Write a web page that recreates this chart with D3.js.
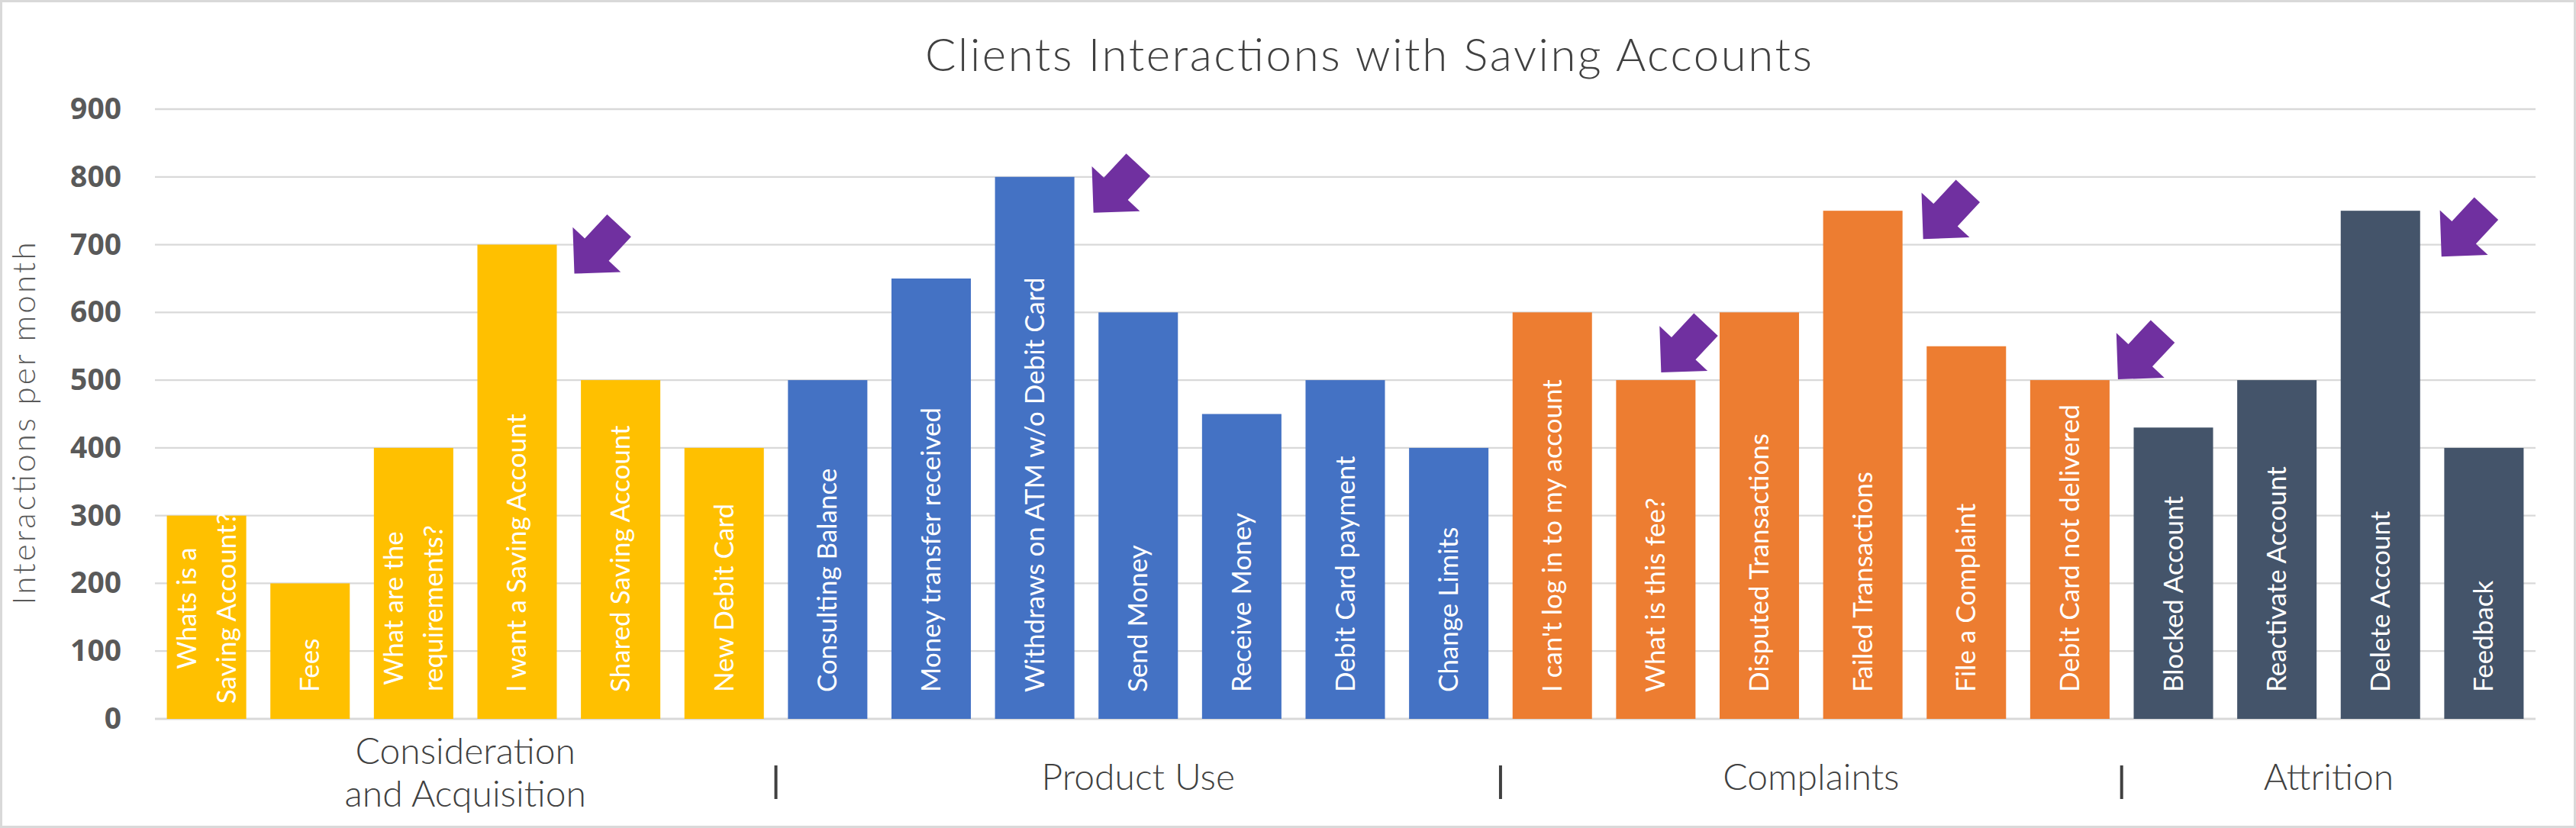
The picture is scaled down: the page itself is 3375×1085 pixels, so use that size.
<!DOCTYPE html>
<html><head><meta charset="utf-8">
<script src="https://cdn.jsdelivr.net/npm/d3@7"></script>
<style>body{margin:0;background:#fff} svg{display:block}</style>
</head><body>
<svg id="chart" width="3375" height="1085"></svg>
<script>
// ---------- data ----------
const categories = [
  "Whats is a\nSaving Account?", "Fees", "What are the\nrequirements?", "I want a Saving Account",
  "Shared Saving Account", "New Debit Card",
  "Consulting Balance", "Money transfer received", "Withdraws on ATM w/o Debit Card", "Send Money",
  "Receive Money", "Debit Card payment", "Change Limits",
  "I can't log in to my account", "What is this fee?", "Disputed Transactions", "Failed Transactions",
  "File a Complaint", "Debit Card not delivered",
  "Blocked Account", "Reactivate Account", "Delete Account", "Feedback"
];
const values = [300, 200, 400, 700, 500, 400,
                500, 650, 800, 600, 450, 500, 400,
                600, 500, 600, 750, 550, 500,
                430, 500, 750, 400];
const categoryGroup = [0,0,0,0,0,0, 1,1,1,1,1,1,1, 2,2,2,2,2,2, 3,3,3,3];
const groupNames = ["Consideration\nand Acquisition", "Product Use", "Complaints", "Attrition"];
const yTicks = [0, 100, 200, 300, 400, 500, 600, 700, 800, 900];
const highlighted = ["I want a Saving Account", "Withdraws on ATM w/o Debit Card", "What is this fee?",
                     "Failed Transactions", "Debit Card not delivered", "Delete Account"];
const titleText = "Clients Interactions with Saving Accounts";
const yTitle = "Interactions per month";

// ---------- styles / layout ----------
const groupColors = ["#FFC000", "#4472C4", "#ED7D31", "#44546A"];
const arrowColor = "#7030A0";
// arrow tip offsets (px) from the top-right corner of the highlighted bar
const arrowOffsets = [[23, 38], [25, 47], [-45, -10], [27, 37], [11, -1], [28, 60]];
const lightFont = "Lato, 'Open Sans', sans-serif";
const W = 3375, H = 1085;
const plot = {left: 203, right: 3322, top: 143, bottom: 942};

const svg = d3.select("#chart");
svg.append("rect").attr("x", 1.5).attr("y", 1.5).attr("width", W - 3).attr("height", H - 3)
  .attr("fill", "#fff").attr("stroke", "#D9D9D9").attr("stroke-width", 3);

const x = d3.scaleBand().domain(categories).range([plot.left, plot.right])
  .paddingInner(0.233).paddingOuter(0.115);
const y = d3.scaleLinear().domain([0, 900]).range([plot.bottom, plot.top]);

// gridlines
svg.append("g").selectAll("line").data(yTicks).join("line")
  .attr("x1", plot.left).attr("x2", plot.right)
  .attr("y1", d => y(d)).attr("y2", d => y(d))
  .attr("stroke", "#D9D9D9").attr("stroke-width", d => d === 0 ? 3 : 2.3);

// y axis tick labels via d3 axis
const yAxis = svg.append("g").attr("transform", `translate(${plot.left},0)`)
  .call(d3.axisLeft(y).tickValues(yTicks).tickSize(0).tickPadding(44));
yAxis.select(".domain").remove();
yAxis.selectAll("text").attr("font-family", "'Open Sans', sans-serif").attr("font-weight", 700)
  .attr("font-size", 39).attr("fill", "#595959");

// bars
svg.append("g").selectAll("rect").data(categories).join("rect")
  .attr("x", d => x(d)).attr("width", x.bandwidth())
  .attr("y", (d, i) => y(values[i])).attr("height", (d, i) => y(0) - y(values[i]))
  .attr("fill", (d, i) => groupColors[categoryGroup[i]]);

// bar labels (rotated, inside base)
const lbl = svg.append("g").attr("font-family", "Lato, 'Open Sans', sans-serif")
  .attr("font-size", 35).attr("fill", "#fff");
categories.forEach((c, i) => {
  const lines = c.split("\n");
  const cx = x(c) + x.bandwidth() / 2;
  if (lines.length === 1) {
    lbl.append("text").attr("transform", `translate(${cx},907) rotate(-90)`)
      .attr("text-anchor", "start").attr("y", 12).text(lines[0]);
  } else {
    const t = lbl.append("text").attr("transform", `translate(${cx},797) rotate(-90)`)
      .attr("text-anchor", "middle");
    lines.forEach((ln, k) => t.append("tspan").attr("x", 0).attr("y", -14 + 52 * k).text(ln));
  }
});

// arrows
const arrowPts = [[0,0],[-43,-43],[-43,-21.5],[-86,-21.5],[-86,21.5],[-43,21.5],[-43,43]];
highlighted.forEach((c, k) => {
  const i = categories.indexOf(c);
  const tx = x(c) + x.bandwidth() + arrowOffsets[k][0];
  const ty = y(values[i]) + arrowOffsets[k][1];
  svg.append("polygon").attr("points", arrowPts.map(p => p.join(",")).join(" "))
    .attr("transform", `translate(${tx},${ty}) rotate(133)`)
    .attr("fill", arrowColor);
});

// title
svg.append("text").attr("x", 1793).attr("y", 93).attr("text-anchor", "middle")
  .attr("font-family", lightFont).attr("font-weight", 300).attr("font-size", 60)
  .attr("fill", "#404040").attr("textLength", 1162).attr("lengthAdjust", "spacing")
  .text(titleText);

// y title
svg.append("text").attr("transform", "translate(46,555) rotate(-90)").attr("text-anchor", "middle")
  .attr("font-family", lightFont).attr("font-weight", 300).attr("font-size", 42)
  .attr("fill", "#595959").attr("textLength", 475).attr("lengthAdjust", "spacing")
  .text(yTitle);

// group labels and separators
const gl = svg.append("g").attr("font-family", lightFont).attr("font-weight", 300)
  .attr("font-size", 48).attr("fill", "#404040").attr("text-anchor", "middle");
groupNames.forEach((g, gi) => {
  const members = categories.filter((c, i) => categoryGroup[i] === gi);
  const x0 = x(members[0]), x1 = x(members[members.length - 1]) + x.bandwidth();
  const cx = (x0 + x1) / 2;
  const lines = g.split("\n");
  const t = gl.append("text");
  if (lines.length === 1) {
    t.append("tspan").attr("x", cx).attr("y", 1035).text(lines[0]);
  } else {
    lines.forEach((ln, k) => t.append("tspan").attr("x", cx).attr("y", 1001 + 56 * k).text(ln));
  }
  if (gi > 0) {
    const prev = categories.filter((c, i) => categoryGroup[i] === gi - 1);
    const bx = (x(prev[prev.length - 1]) + x.bandwidth() + x0) / 2;
    svg.append("line").attr("x1", bx).attr("x2", bx).attr("y1", 1003).attr("y2", 1047)
      .attr("stroke", "#404040").attr("stroke-width", 4);
  }
});
</script>
</body></html>
